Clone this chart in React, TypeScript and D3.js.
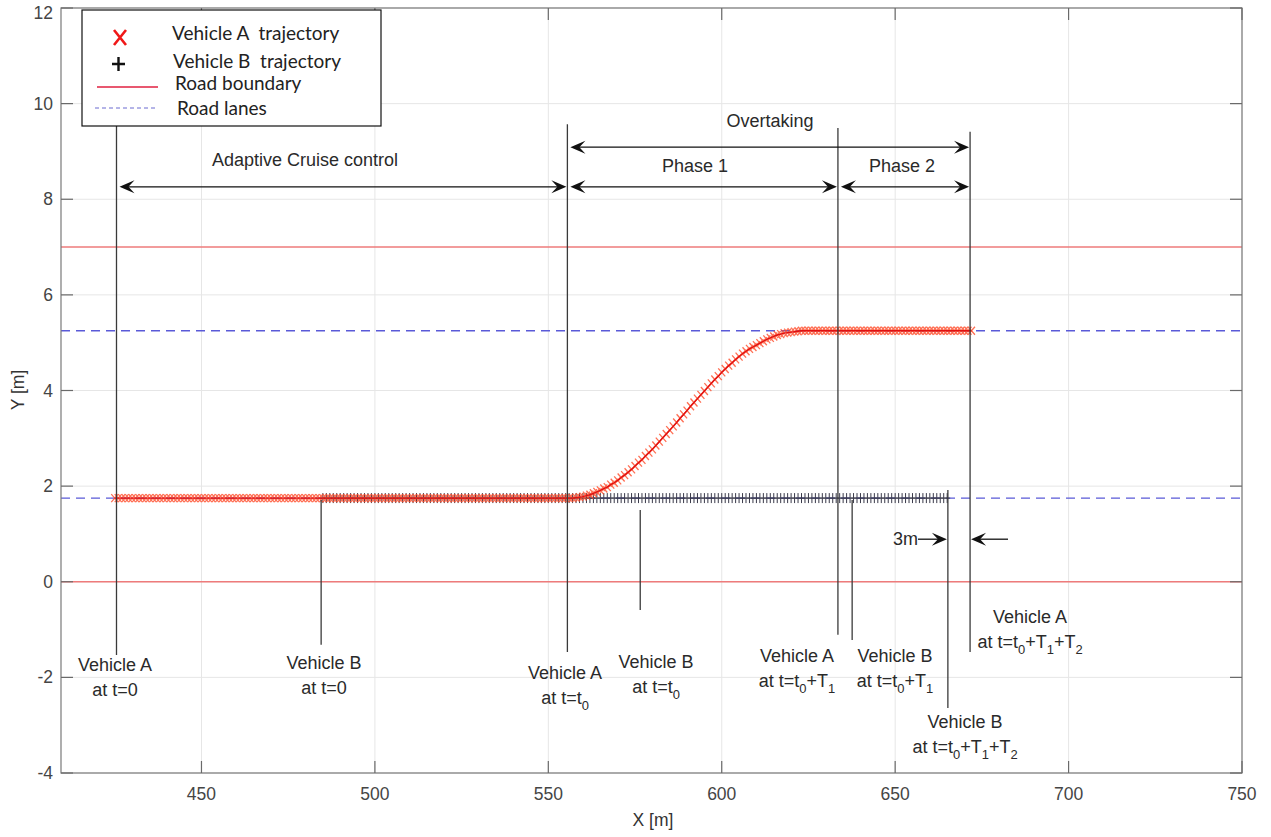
import React from 'react';
import * as d3 from 'd3';

// ---------------- data ----------------
const xTicks = [450, 500, 550, 600, 650, 700, 750];
const yTicks = [-4, -2, 0, 2, 4, 6, 8, 10, 12];
const roadBoundaryY = [0, 7];
const roadLaneY = [1.75, 5.25];
const laneCenterStart = 1.75;
const laneCenterEnd = 5.25;

// Vehicle A: lane keeping (y = 1.75)
const vehicleAKeepX = [425,426,427,428,429,430,431,432,433,434,435,436,437,438,439,440,441,442,443,444,445,446,447,448,449,450,451,452,453,454,455,456,457,458,459,460,461,462,463,464,465,466,467,468,469,470,471,472,473,474,475,476,477,478,479,480,481,482,483,484,485,486,487,488,489,490,491,492,493,494,495,496,497,498,499,500,501,502,503,504,505,506,507,508,509,510,511,512,513,514,515,516,517,518,519,520,521,522,523,524,525,526,527,528,529,530,531,532,533,534,535,536,537,538,539,540,541,542,543,544,545,546,547,548,549,550,551,552,553,554,555];
// Vehicle A: lane change
const vehicleAChangeX = [556,557,558,559,560,561,562,563,564,565,566,567,568,569,570,571,572,573,574,575,576,577,578,579,580,581,582,583,584,585,586,587,588,589,590,591,592,593,594,595,596,597,598,599,600,601,602,603,604,605,606,607,608,609,610,611,612,613,614,615,616,617,618,619,620,621,622,623,624];
const vehicleAChangeY = [1.75,1.75,1.76,1.77,1.78,1.80,1.82,1.85,1.88,1.91,1.95,1.98,2.03,2.07,2.12,2.18,2.23,2.29,2.35,2.42,2.49,2.55,2.63,2.70,2.77,2.85,2.93,3.01,3.09,3.17,3.25,3.33,3.42,3.50,3.58,3.67,3.75,3.83,3.91,3.99,4.07,4.15,4.23,4.30,4.38,4.45,4.52,4.58,4.65,4.71,4.77,4.82,4.87,4.91,4.95,4.99,5.03,5.07,5.10,5.13,5.16,5.18,5.20,5.21,5.22,5.23,5.24,5.25,5.25];
// Vehicle A: new lane (y = 5.25)
const vehicleANewX = [625,626,627,628,629,630,631,632,633,634,635,636,637,638,639,640,641,642,643,644,645,646,647,648,649,650,651,652,653,654,655,656,657,658,659,660,661,662,663,664,665,666,667,668,669,670,671,672];
// Vehicle B (y = 1.75)
const vehicleBX = [485,486,487,488,489,490,491,492,493,494,495,496,497,498,499,500,501,502,503,504,505,506,507,508,509,510,511,512,513,514,515,516,517,518,519,520,521,522,523,524,525,526,527,528,529,530,531,532,533,534,535,536,537,538,539,540,541,542,543,544,545,546,547,548,549,550,551,552,553,554,555,556,557,558,559,560,561,562,563,564,565,566,567,568,569,570,571,572,573,574,575,576,577,578,579,580,581,582,583,584,585,586,587,588,589,590,591,592,593,594,595,596,597,598,599,600,601,602,603,604,605,606,607,608,609,610,611,612,613,614,615,616,617,618,619,620,621,622,623,624,625,626,627,628,629,630,631,632,633,634,635,636,637,638,639,640,641,642,643,644,645,646,647,648,649,650,651,652,653,654,655,656,657,658,659,660,661,662,663,664,665];

// Event markers (vehicle positions at given times)
const eventVehicle = ['Vehicle A', 'Vehicle B', 'Vehicle A', 'Vehicle B', 'Vehicle A', 'Vehicle B', 'Vehicle B', 'Vehicle A'];
const eventTime = ['at t=0', 'at t=0', 'at t=t_0', 'at t=t_0', 'at t=t_0+T_1', 'at t=t_0+T_1', 'at t=t_0+T_1+T_2', 'at t=t_0+T_1+T_2'];
const eventX = [425.5, 484.5, 555.5, 576.5, 633.5, 637.6, 665.2, 671.6];

// Phases
const phaseNames = ['Adaptive Cruise control', 'Phase 1', 'Phase 2'];
const phaseStart = [425.5, 555.5, 633.5];
const phaseEnd = [555.5, 633.5, 671.6];
const overtakingName = 'Overtaking';
const gapLabel = '3m';

const legendLabels = ['Vehicle A  trajectory', 'Vehicle B  trajectory', 'Road boundary', 'Road lanes'];

// ---------------- layout ----------------
const W = 1271, H = 837;
const M = { left: 61, right: 1242, top: 8, bottom: 773 };
const lineTop = [9.65, 1.71, 9.57, 1.5, 9.49, 1.71, 1.92, 9.41];
const lineBottom = [-1.53, -1.32, -1.47, -0.59, -1.11, -1.22, -2.64, -1.47];
const labelCx = [115, 324, 565, 656, 797, 895, 965, 1030];
const labelCy = [665, 663, 673, 662, 656, 656, 722, 617];

const FONT = '"Liberation Sans", Arial, sans-serif';

function parseSub(s: string) {
  const parts: { t: string; sub: boolean }[] = [];
  let buf = '';
  for (let i = 0; i < s.length; i++) {
    if (s[i] === '_') {
      if (buf) parts.push({ t: buf, sub: false });
      buf = '';
      parts.push({ t: s[i + 1], sub: true });
      i++;
    } else buf += s[i];
  }
  if (buf) parts.push({ t: buf, sub: false });
  return parts;
}

function SubText({ s, x, y, size }: { s: string; x: number; y: number; size: number }) {
  const parts = parseSub(s);
  let inSub = false;
  return (
    <text x={x} y={y} textAnchor="middle" fontFamily={FONT} fontSize={size} fill="#2a2a2a">
      {parts.map((p, i) => {
        let dy = 0;
        if (p.sub && !inSub) dy = 6;
        if (!p.sub && inSub) dy = -6;
        inSub = p.sub;
        return (
          <tspan key={i} dy={dy} fontSize={p.sub ? size * 0.72 : size}>
            {p.t}
          </tspan>
        );
      })}
    </text>
  );
}

function arrowHead(x: number, y: number, dir: number) {
  const L = 15, Wd = 6.5, N = 9;
  return `M${x},${y} L${x - dir * L},${y - Wd} L${x - dir * N},${y} L${x - dir * L},${y + Wd} Z`;
}

export default function App() {
  const x = d3.scaleLinear().domain([409.5, 750]).range([M.left, M.right]);
  const y = d3.scaleLinear().domain([-4, 12]).range([M.bottom, M.top]);

  const aPoints: [number, number][] = [
    ...vehicleAKeepX.map((v) => [v, laneCenterStart] as [number, number]),
    ...vehicleAChangeX.map((v, i) => [v, vehicleAChangeY[i]] as [number, number]),
    ...vehicleANewX.map((v) => [v, laneCenterEnd] as [number, number]),
  ];
  const line = d3.line<[number, number]>().x((d) => x(d[0])).y((d) => y(d[1]));

  const arrowYAcc = y(8.26);
  const arrowYOver = y(9.09);
  const gapY = y(0.89);

  const doubleArrow = (x1: number, x2: number, yy: number, key: string) => (
    <g key={key}>
      <line x1={x1 + 5} x2={x2 - 5} y1={yy} y2={yy} stroke="#111" strokeWidth={1.3} />
      <path d={arrowHead(x1, yy, -1)} fill="#111" />
      <path d={arrowHead(x2, yy, 1)} fill="#111" />
    </g>
  );

  return (
    <svg width={W} height={H} style={{ position: 'absolute', left: 0, top: 0, background: '#fff' }}>
      <rect x={0} y={0} width={W} height={H} fill="#fff" />
      {/* grid */}
      <g stroke="#e6e6e6" strokeWidth={1}>
        {xTicks.map((t) => (
          <line key={'gx' + t} x1={x(t)} x2={x(t)} y1={M.top} y2={M.bottom} />
        ))}
        {yTicks.map((t) => (
          <line key={'gy' + t} x1={M.left} x2={M.right} y1={y(t)} y2={y(t)} />
        ))}
      </g>

      {/* road boundaries */}
      {roadBoundaryY.map((v) => (
        <line key={'rb' + v} x1={M.left} x2={M.right} y1={y(v)} y2={y(v)} stroke="#ee7b7b" strokeWidth={1.6} />
      ))}
      {/* lanes */}
      {roadLaneY.map((v) => (
        <line key={'rl' + v} x1={M.left} x2={M.right} y1={y(v)} y2={y(v)} stroke="#5a5ad8" strokeWidth={1.4} strokeDasharray="9,6" />
      ))}

      {/* Vehicle B markers */}
      <g stroke="#3a3a4a" strokeWidth={1}>
        {vehicleBX.map((v, i) => {
          const px = x(v), py = y(laneCenterStart);
          return (
            <path key={'b' + i} d={`M${px - 3},${py} L${px + 3},${py} M${px},${py - 5} L${px},${py + 5}`} />
          );
        })}
      </g>

      {/* Vehicle A line and markers */}
      <g stroke="#ff4a28" strokeWidth={1.3} opacity={0.8}>
        {aPoints.map((d, i) => {
          const px = x(d[0]), py = y(d[1]);
          return <path key={'a' + i} d={`M${px - 3.5},${py - 4} L${px + 3.5},${py + 4} M${px - 3.5},${py + 4} L${px + 3.5},${py - 4}`} />;
        })}
      </g>
      <path d={line(aPoints) || ''} fill="none" stroke="#e01010" strokeWidth={1.4} />

      {/* event vertical lines */}
      {eventX.map((v, i) => (
        <line key={'ev' + i} x1={x(v)} x2={x(v)} y1={y(lineTop[i])} y2={y(lineBottom[i])} stroke="#3a3a3a" strokeWidth={1.3} />
      ))}
      {/* event labels */}
      {eventX.map((v, i) => (
        <g key={'el' + i}>
          <text x={labelCx[i]} y={labelCy[i] + 6} textAnchor="middle" fontFamily={FONT} fontSize={18} fill="#2a2a2a">
            {eventVehicle[i]}
          </text>
          <SubText s={eventTime[i]} x={labelCx[i]} y={labelCy[i] + 31} size={18} />
        </g>
      ))}

      {/* phase arrows */}
      {phaseNames.map((name, i) => doubleArrow(x(phaseStart[i]) + 3, x(phaseEnd[i]) - 1, arrowYAcc, 'ph' + i))}
      {doubleArrow(x(phaseStart[1]) + 3, x(phaseEnd[2]) - 1, arrowYOver, 'ov')}
      <text x={305} y={166} textAnchor="middle" fontFamily={FONT} fontSize={18} fill="#2a2a2a">{phaseNames[0]}</text>
      <text x={695} y={172} textAnchor="middle" fontFamily={FONT} fontSize={18} fill="#2a2a2a">{phaseNames[1]}</text>
      <text x={902} y={172} textAnchor="middle" fontFamily={FONT} fontSize={18} fill="#2a2a2a">{phaseNames[2]}</text>
      <text x={770} y={127} textAnchor="middle" fontFamily={FONT} fontSize={18} fill="#2a2a2a">{overtakingName}</text>

      {/* 3m gap */}
      <text x={918} y={gapY + 6} textAnchor="end" fontFamily={FONT} fontSize={18} fill="#2a2a2a">{gapLabel}</text>
      <line x1={918} x2={940} y1={gapY} y2={gapY} stroke="#111" strokeWidth={1.3} />
      <path d={arrowHead(x(eventX[6]) - 1, gapY, 1)} fill="#111" />
      <line x1={x(eventX[7]) + 8} x2={1008} y1={gapY} y2={gapY} stroke="#111" strokeWidth={1.3} />
      <path d={arrowHead(x(eventX[7]) + 1, gapY, -1)} fill="#111" />

      {/* axes frame */}
      <rect x={M.left} y={M.top} width={M.right - M.left} height={M.bottom - M.top} fill="none" stroke="#7a7a7a" strokeWidth={1.2} />
      <g stroke="#6a6a6a" strokeWidth={1.2}>
        {xTicks.map((t) => (
          <g key={'tx' + t}>
            <line x1={x(t)} x2={x(t)} y1={M.bottom} y2={M.bottom - 12} />
            <line x1={x(t)} x2={x(t)} y1={M.top} y2={M.top + 12} />
          </g>
        ))}
        {yTicks.map((t) => (
          <g key={'ty' + t}>
            <line x1={M.left} x2={M.left + 12} y1={y(t)} y2={y(t)} />
            <line x1={M.right} x2={M.right - 12} y1={y(t)} y2={y(t)} />
          </g>
        ))}
      </g>
      {xTicks.map((t) => (
        <text key={'lx' + t} x={x(t)} y={800} textAnchor="middle" fontFamily={FONT} fontSize={17.5} fill="#454545">{t}</text>
      ))}
      {yTicks.map((t) => (
        <text key={'ly' + t} x={53} y={Math.max(y(t) + 6, 19)} textAnchor="end" fontFamily={FONT} fontSize={17.5} fill="#454545">{t}</text>
      ))}
      <text x={653} y={826} textAnchor="middle" fontFamily={FONT} fontSize={17.5} fill="#333">X [m]</text>
      <text transform="translate(24,390) rotate(-90)" textAnchor="middle" fontFamily={FONT} fontSize={17.5} fill="#333">Y [m]</text>

      {/* legend */}
      <g>
        <rect x={82} y={10} width={299} height={116} fill="#fff" stroke="#111" strokeWidth={1.2} />
        <path d="M114,30 L126,45 M126,30 L114,45" stroke="#f01818" strokeWidth={2.6} />
        <path d="M112,64 L125,64 M118.5,57 L118.5,71" stroke="#111" strokeWidth={2.4} />
        <line x1={97} x2={158} y1={87} y2={87} stroke="#e02040" strokeWidth={1.4} />
        <line x1={95} x2={157} y1={108} y2={108} stroke="#6a6ad0" strokeWidth={1} strokeDasharray="4,3" />
        {legendLabels.map((l, i) => (
          <text key={'lg' + i} x={[172, 173, 175, 177][i]} y={[40, 68, 90, 115][i]} fontFamily='Lato, "Open Sans", sans-serif' fontSize={19} fill="#222" style={{ whiteSpace: 'pre' }}>
            {l}
          </text>
        ))}
      </g>
    </svg>
  );
}
